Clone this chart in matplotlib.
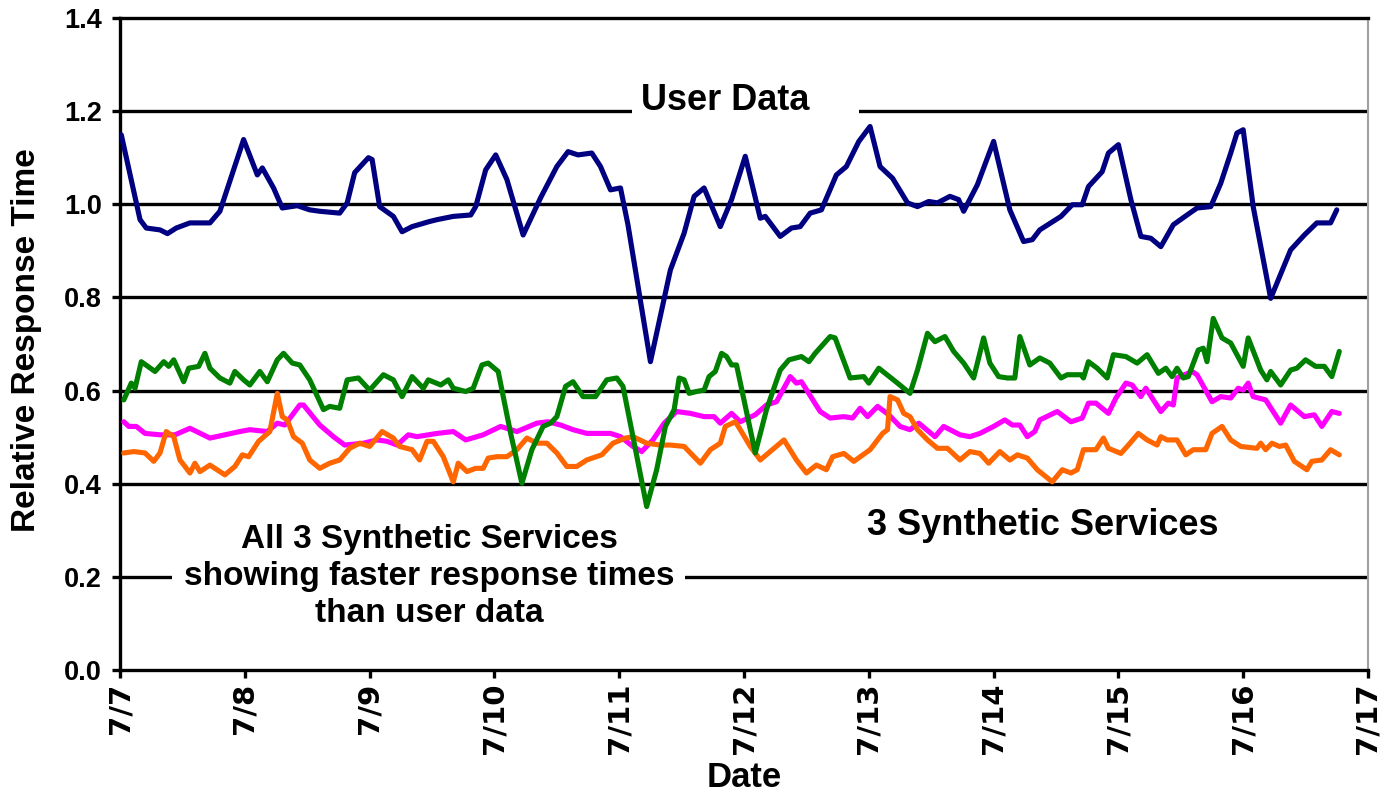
import matplotlib.pyplot as plt
from matplotlib.patches import Rectangle

# x values are days after 7/7 00:00, y values are relative response time
date_labels = ['7/7', '7/8', '7/9', '7/10', '7/11', '7/12', '7/13', '7/14', '7/15', '7/16', '7/17']
y_ticks = [0.0, 0.2, 0.4, 0.6, 0.8, 1.0, 1.2, 1.4]

user_days = [0.01, 0.16, 0.21, 0.32, 0.38, 0.45, 0.56, 0.72, 0.80, 0.99,
             1.10, 1.14, 1.23, 1.30, 1.42, 1.52, 1.60, 1.76, 1.82, 1.88,
             1.99, 2.02, 2.08, 2.19, 2.26, 2.34, 2.48, 2.54, 2.67, 2.81,
             2.85, 2.93, 3.01, 3.10, 3.23, 3.37, 3.50, 3.59, 3.67, 3.78,
             3.85, 3.93, 4.01, 4.07, 4.25, 4.41, 4.52, 4.60, 4.68, 4.81,
             4.90, 5.01, 5.13, 5.17, 5.29, 5.38, 5.45, 5.53, 5.62, 5.74,
             5.82, 5.92, 6.01, 6.09, 6.19, 6.31, 6.39, 6.48, 6.55, 6.65,
             6.72, 6.76, 6.87, 7.00, 7.13, 7.24, 7.31, 7.37, 7.54, 7.63,
             7.71, 7.76, 7.87, 7.92, 8.00, 8.10, 8.18, 8.26, 8.34, 8.44,
             8.55, 8.63, 8.74, 8.82, 8.90, 8.95, 9.00, 9.08, 9.22, 9.38,
             9.49, 9.59, 9.70, 9.75]
user_vals = [1.149, 0.967, 0.949, 0.945, 0.937, 0.949, 0.960, 0.960, 0.985, 1.139,
             1.063, 1.078, 1.035, 0.992, 0.997, 0.988, 0.985, 0.981, 1.003, 1.068,
             1.100, 1.096, 0.995, 0.974, 0.941, 0.952, 0.963, 0.967, 0.974, 0.977,
             0.995, 1.074, 1.106, 1.053, 0.934, 1.014, 1.081, 1.113, 1.106, 1.110,
             1.081, 1.031, 1.035, 0.956, 0.662, 0.859, 0.938, 1.017, 1.035, 0.952,
             1.010, 1.103, 0.970, 0.974, 0.931, 0.949, 0.952, 0.981, 0.988, 1.063,
             1.081, 1.135, 1.167, 1.081, 1.056, 1.003, 0.995, 1.006, 1.003, 1.017,
             1.010, 0.985, 1.042, 1.135, 0.988, 0.920, 0.924, 0.945, 0.974, 0.999,
             0.999, 1.038, 1.070, 1.110, 1.128, 1.010, 0.931, 0.927, 0.909, 0.956,
             0.977, 0.992, 0.995, 1.045, 1.110, 1.153, 1.160, 0.995, 0.798, 0.902,
             0.934, 0.960, 0.960, 0.988]

green_days = [0.03, 0.09, 0.12, 0.17, 0.28, 0.35, 0.39, 0.43, 0.51, 0.55,
              0.63, 0.68, 0.72, 0.80, 0.88, 0.92, 0.99, 1.04, 1.12, 1.18,
              1.26, 1.31, 1.38, 1.44, 1.52, 1.63, 1.68, 1.76, 1.82, 1.91,
              2.00, 2.11, 2.19, 2.26, 2.34, 2.43, 2.47, 2.57, 2.63, 2.67,
              2.77, 2.83, 2.90, 2.95, 3.03, 3.13, 3.22, 3.30, 3.39, 3.45,
              3.50, 3.57, 3.63, 3.71, 3.81, 3.90, 3.98, 4.03, 4.11, 4.22,
              4.30, 4.37, 4.44, 4.48, 4.52, 4.56, 4.62, 4.68, 4.72, 4.77,
              4.82, 4.86, 4.90, 4.94, 5.09, 5.18, 5.29, 5.36, 5.46, 5.52,
              5.57, 5.69, 5.73, 5.85, 5.96, 6.00, 6.08, 6.23, 6.33, 6.39,
              6.47, 6.53, 6.61, 6.68, 6.76, 6.84, 6.92, 6.97, 7.04, 7.11,
              7.17, 7.21, 7.29, 7.37, 7.45, 7.54, 7.59, 7.70, 7.72, 7.76,
              7.83, 7.91, 7.96, 8.06, 8.15, 8.23, 8.32, 8.38, 8.43, 8.47,
              8.52, 8.56, 8.64, 8.68, 8.71, 8.76, 8.83, 8.90, 9.00, 9.04,
              9.14, 9.19, 9.22, 9.30, 9.38, 9.43, 9.50, 9.58, 9.65, 9.71,
              9.77]
green_vals = [0.580, 0.616, 0.605, 0.662, 0.641, 0.662, 0.652, 0.666, 0.619, 0.648,
              0.652, 0.680, 0.648, 0.627, 0.616, 0.641, 0.623, 0.612, 0.641, 0.619,
              0.666, 0.680, 0.659, 0.655, 0.623, 0.559, 0.566, 0.562, 0.623, 0.627,
              0.601, 0.634, 0.623, 0.587, 0.630, 0.605, 0.623, 0.612, 0.623, 0.605,
              0.598, 0.605, 0.655, 0.659, 0.641, 0.508, 0.401, 0.473, 0.523, 0.530,
              0.544, 0.609, 0.619, 0.587, 0.587, 0.623, 0.627, 0.609, 0.501, 0.351,
              0.430, 0.523, 0.559, 0.627, 0.623, 0.594, 0.598, 0.601, 0.630, 0.641,
              0.680, 0.673, 0.655, 0.655, 0.466, 0.559, 0.644, 0.666, 0.673, 0.662,
              0.680, 0.716, 0.713, 0.627, 0.630, 0.616, 0.648, 0.616, 0.594, 0.644,
              0.723, 0.705, 0.716, 0.684, 0.659, 0.627, 0.713, 0.659, 0.630, 0.627,
              0.627, 0.716, 0.655, 0.670, 0.659, 0.627, 0.634, 0.634, 0.627, 0.662,
              0.648, 0.627, 0.677, 0.673, 0.659, 0.677, 0.637, 0.648, 0.630, 0.648,
              0.627, 0.630, 0.687, 0.691, 0.662, 0.755, 0.713, 0.702, 0.652, 0.713,
              0.644, 0.623, 0.641, 0.612, 0.644, 0.648, 0.666, 0.652, 0.652, 0.630,
              0.684]

magenta_days = [0.03, 0.07, 0.13, 0.20, 0.32, 0.44, 0.56, 0.72, 0.84, 0.96,
                1.04, 1.18, 1.26, 1.32, 1.44, 1.47, 1.60, 1.71, 1.80, 1.95,
                2.06, 2.14, 2.22, 2.31, 2.38, 2.54, 2.67, 2.77, 2.91, 3.05,
                3.18, 3.34, 3.43, 3.53, 3.63, 3.74, 3.93, 4.01, 4.11, 4.18,
                4.27, 4.36, 4.46, 4.57, 4.68, 4.76, 4.81, 4.90, 4.97, 5.09,
                5.18, 5.26, 5.37, 5.42, 5.46, 5.61, 5.69, 5.80, 5.87, 5.93,
                5.99, 6.07, 6.16, 6.25, 6.33, 6.40, 6.53, 6.60, 6.73, 6.81,
                6.89, 7.00, 7.09, 7.15, 7.21, 7.27, 7.33, 7.37, 7.51, 7.62,
                7.71, 7.76, 7.82, 7.92, 7.98, 8.06, 8.11, 8.18, 8.22, 8.34,
                8.40, 8.44, 8.47, 8.59, 8.63, 8.75, 8.82, 8.90, 8.96, 9.00,
                9.04, 9.08, 9.18, 9.30, 9.38, 9.49, 9.57, 9.63, 9.71, 9.77]
magenta_vals = [0.533, 0.523, 0.523, 0.508, 0.505, 0.505, 0.519, 0.498, 0.505, 0.512,
                0.516, 0.512, 0.530, 0.526, 0.569, 0.569, 0.526, 0.501, 0.483, 0.487,
                0.494, 0.491, 0.483, 0.505, 0.501, 0.508, 0.512, 0.494, 0.505, 0.523,
                0.512, 0.530, 0.533, 0.526, 0.516, 0.508, 0.508, 0.501, 0.480, 0.469,
                0.494, 0.530, 0.555, 0.551, 0.544, 0.544, 0.530, 0.551, 0.533, 0.548,
                0.569, 0.576, 0.630, 0.616, 0.619, 0.555, 0.541, 0.544, 0.541, 0.562,
                0.544, 0.566, 0.548, 0.523, 0.516, 0.530, 0.501, 0.523, 0.505, 0.501,
                0.508, 0.523, 0.537, 0.526, 0.526, 0.501, 0.512, 0.537, 0.555, 0.533,
                0.541, 0.573, 0.573, 0.551, 0.584, 0.616, 0.612, 0.587, 0.605, 0.555,
                0.573, 0.569, 0.627, 0.641, 0.634, 0.576, 0.587, 0.584, 0.605, 0.601,
                0.616, 0.587, 0.580, 0.530, 0.569, 0.544, 0.548, 0.523, 0.555, 0.551]

orange_days = [0.03, 0.11, 0.20, 0.27, 0.32, 0.37, 0.43, 0.48, 0.56, 0.60,
               0.64, 0.72, 0.84, 0.92, 0.98, 1.03, 1.11, 1.20, 1.26, 1.30,
               1.34, 1.39, 1.46, 1.52, 1.60, 1.68, 1.76, 1.84, 1.92, 2.00,
               2.10, 2.19, 2.24, 2.34, 2.40, 2.46, 2.51, 2.59, 2.67, 2.71,
               2.78, 2.85, 2.91, 2.95, 3.02, 3.10, 3.18, 3.26, 3.34, 3.42,
               3.50, 3.58, 3.66, 3.74, 3.86, 3.95, 4.05, 4.11, 4.22, 4.33,
               4.41, 4.52, 4.65, 4.73, 4.81, 4.85, 4.93, 4.97, 5.05, 5.13,
               5.21, 5.32, 5.42, 5.50, 5.58, 5.66, 5.71, 5.80, 5.88, 6.01,
               6.11, 6.15, 6.17, 6.23, 6.28, 6.33, 6.39, 6.47, 6.55, 6.63,
               6.73, 6.81, 6.89, 6.96, 7.05, 7.13, 7.19, 7.27, 7.35, 7.47,
               7.55, 7.62, 7.67, 7.72, 7.82, 7.88, 7.92, 8.02, 8.08, 8.16,
               8.23, 8.31, 8.34, 8.39, 8.47, 8.54, 8.60, 8.70, 8.75, 8.83,
               8.90, 8.98, 9.11, 9.14, 9.18, 9.23, 9.29, 9.34, 9.41, 9.51,
               9.55, 9.63, 9.70, 9.77]
orange_vals = [0.466, 0.469, 0.466, 0.448, 0.466, 0.512, 0.501, 0.451, 0.423, 0.444,
               0.426, 0.440, 0.419, 0.437, 0.462, 0.458, 0.491, 0.512, 0.594, 0.544,
               0.537, 0.501, 0.487, 0.451, 0.433, 0.444, 0.451, 0.476, 0.487, 0.480,
               0.512, 0.498, 0.480, 0.473, 0.451, 0.491, 0.491, 0.458, 0.404, 0.444,
               0.426, 0.433, 0.433, 0.455, 0.458, 0.458, 0.473, 0.498, 0.487, 0.487,
               0.466, 0.437, 0.437, 0.451, 0.462, 0.487, 0.498, 0.501, 0.487, 0.483,
               0.483, 0.480, 0.444, 0.473, 0.487, 0.523, 0.533, 0.516, 0.480, 0.451,
               0.469, 0.494, 0.451, 0.423, 0.440, 0.430, 0.458, 0.465, 0.448, 0.473,
               0.508, 0.516, 0.587, 0.580, 0.551, 0.544, 0.516, 0.494, 0.476, 0.476,
               0.451, 0.469, 0.465, 0.444, 0.469, 0.451, 0.462, 0.455, 0.430, 0.404,
               0.430, 0.423, 0.430, 0.473, 0.473, 0.498, 0.476, 0.465, 0.483, 0.508,
               0.494, 0.483, 0.501, 0.494, 0.494, 0.462, 0.473, 0.473, 0.508, 0.523,
               0.494, 0.480, 0.476, 0.487, 0.473, 0.487, 0.480, 0.483, 0.448, 0.430,
               0.448, 0.451, 0.473, 0.462]

plt.rcParams['font.family'] = ['Liberation Sans', 'DejaVu Sans']

fig = plt.figure(figsize=(13.8, 7.96), dpi=100)
ax = fig.add_axes([0.087, 0.1583, 0.9043, 0.8191])
ax.set_xlim(0, 10)
ax.set_ylim(0, 1.4)

# black horizontal gridlines
for y in y_ticks[1:-1]:
    ax.axhline(y, color='black', lw=2.4, zorder=1)

# white gaps in the gridlines behind the annotations
ax.add_patch(Rectangle((4.10, 1.18), 1.82, 0.04, facecolor='white', edgecolor='none', zorder=2))
ax.add_patch(Rectangle((0.42, 0.18), 4.11, 0.04, facecolor='white', edgecolor='none', zorder=2))

lw = 3.7
ax.plot(magenta_days, magenta_vals, color='#FF00FF', lw=lw, zorder=3,
        solid_joinstyle='round', solid_capstyle='round')
ax.plot(orange_days, orange_vals, color='#FF6600', lw=lw, zorder=4,
        solid_joinstyle='round', solid_capstyle='round')
ax.plot(green_days, green_vals, color='#008000', lw=lw, zorder=5,
        solid_joinstyle='round', solid_capstyle='round')
ax.plot(user_days, user_vals, color='#000080', lw=lw, zorder=6,
        solid_joinstyle='round', solid_capstyle='round')

ax.text(4.85, 1.222, 'User Data', ha='center', va='center', fontsize=26, fontweight='bold', zorder=7)
ax.text(7.39, 0.311, '3 Synthetic Services', ha='center', va='center', fontsize=26, fontweight='bold', zorder=7)
ax.text(2.48, 0.2, 'All 3 Synthetic Services\nshowing faster response times\nthan user data',
        ha='center', va='center', multialignment='center', linespacing=1.25,
        fontsize=24, fontweight='bold', zorder=7)

# spines
for side in ['left', 'bottom', 'top']:
    ax.spines[side].set_color('black')
    ax.spines[side].set_linewidth(2.4)
ax.spines['right'].set_color('#a0a0a0')
ax.spines['right'].set_linewidth(1.5)

ax.set_yticks(y_ticks)
ax.set_yticklabels([f'{v:.1f}' for v in y_ticks], fontsize=19.5, fontweight='bold')
ax.set_xticks(range(len(date_labels)))
ax.set_xticklabels(date_labels, rotation=90, fontsize=21, fontweight='bold', family='DejaVu Sans')
ax.tick_params(axis='y', length=6, width=2.4, pad=7)
ax.tick_params(axis='x', length=6, width=2.4, pad=3)

ax.set_ylabel('Relative Response Time', fontsize=24, fontweight='bold', va='center')
ax.yaxis.set_label_coords(-0.0753, 0.506)
ax.set_xlabel('Date', fontsize=25, fontweight='bold', va='center')
ax.xaxis.set_label_coords(0.5, -0.1656)

fig.savefig('out.png', dpi=100)
